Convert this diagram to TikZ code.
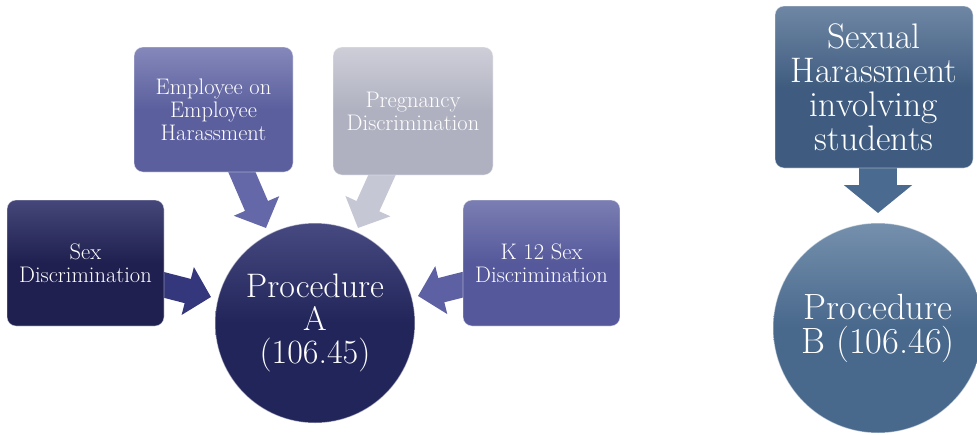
\documentclass[tikz,border=0pt]{standalone}
\usepackage{fontspec}
\usetikzlibrary{arrows.meta,calc,backgrounds}
\definecolor{sdT}{HTML}{45477A}
\definecolor{sdB}{HTML}{1F204F}
\definecolor{empT}{HTML}{8588BA}
\definecolor{empB}{HTML}{5B5F9D}
\definecolor{prgT}{HTML}{CDCED8}
\definecolor{prgB}{HTML}{B0B1C0}
\definecolor{kT}{HTML}{7B7EB2}
\definecolor{kB}{HTML}{55599B}
\definecolor{shT}{HTML}{6F87A4}
\definecolor{shB}{HTML}{3F5C80}
\definecolor{caT}{HTML}{474A80}
\definecolor{caB}{HTML}{22255A}
\definecolor{cbT}{HTML}{7590AD}
\definecolor{cbB}{HTML}{48688C}
\definecolor{arSD}{HTML}{34377B}
\definecolor{arEmp}{HTML}{6468A8}
\definecolor{arPrg}{HTML}{C6C7D4}
\definecolor{arK}{HTML}{5D61A3}
\definecolor{arSH}{HTML}{4B6A90}
\begin{document}
\begin{tikzpicture}[x=1pt,y=-1pt,
  box/.style={rounded corners=9pt, align=center, text=white, inner sep=2pt,
    draw=white, draw opacity=0.45, line width=0.8pt,
    font=\fontsize{22.5}{23}\selectfont},
  disc/.style={circle, align=center, text=white, inner sep=0pt,
    draw=white, draw opacity=0.5, line width=1pt},
  barrow/.style={draw=#1, line width=25pt, -{Triangle[width=48pt,length=24pt]}},
  bigarrow/.style={draw=#1, line width=38pt, -{Triangle[width=67pt,length=28pt]}}
]
\useasboundingbox (0,0) rectangle (977,434);
\clip (0,0) rectangle (977,434);

% boxes
\node[box, minimum width=157pt, minimum height=126pt,
  top color=sdT, bottom color=sdB, middle color=sdB] (sd) at (85.5,263) {Sex\\Discrimination};
\node[box, minimum width=159pt, minimum height=125pt,
  top color=empT, bottom color=empB, middle color=empB] (emp) at (213.5,109.5) {Employee on\\Employee\\Harassment};
\node[box, minimum width=160pt, minimum height=128pt,
  top color=prgT, bottom color=prgB, middle color=prgB] (preg) at (413,111) {Pregnancy\\Discrimination};
\node[box, minimum width=157pt, minimum height=126pt,
  top color=kT, bottom color=kB, middle color=kB] (k12) at (541.5,263) {K 12 Sex\\Discrimination};
\node[box, minimum width=198pt, minimum height=162pt, font=\fontsize{35.5}{34}\selectfont,
  top color=shT, bottom color=shB, middle color=shB] (sh) at (874,87) {Sexual\\Harassment\\involving\\students};

% circles
\node[disc, minimum size=200pt, font=\fontsize{34}{33}\selectfont,
  top color=caT, bottom color=caB, middle color=caB] (A) at (315,323) {Procedure\\A\\(106.45)};
\node[disc, minimum size=210pt, font=\fontsize{36.5}{34}\selectfont,
  top color=cbT, bottom color=cbB, middle color=cbB] (B) at (878,328) {Procedure\\B (106.46)};

% arrow tips
\coordinate (tSD) at (211,297);
\coordinate (tEmp) at (266,228);
\coordinate (tPrg) at (358,228);
\coordinate (tK) at (418,296);
\coordinate (tSH) at (878,213);

\begin{scope}[on background layer]
\draw[barrow=arSD] ($(sd.east)+(-4,21)$) -- (tSD);
\draw[barrow=arEmp] ($(emp.south)+(25.5,-7)$) -- (tEmp);
\draw[barrow=arPrg] ($(preg.south)+(-28,-7)$) -- (tPrg);
\draw[barrow=arK] ($(k12.west)+(7,20)$) -- (tK);
\draw[bigarrow=arSH] ($(sh.south)+(4,-8)$) -- (tSH);
\end{scope}
\end{tikzpicture}
\end{document}
